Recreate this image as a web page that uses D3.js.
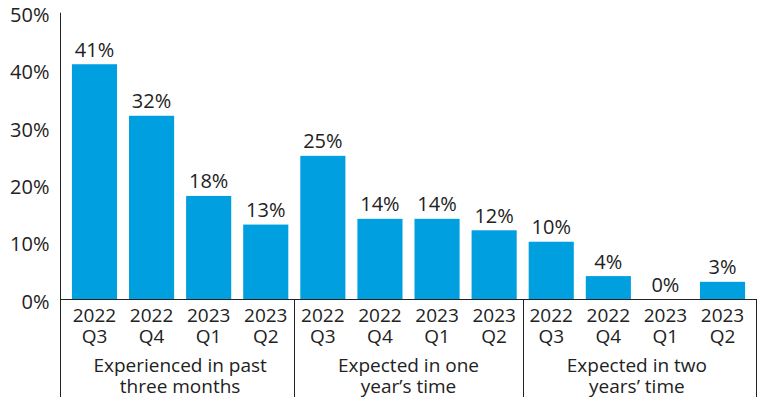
<!DOCTYPE html>
<html>
<head>
<meta charset="utf-8">
<script src="https://cdn.jsdelivr.net/npm/d3@7"></script>
<style>
  html, body { margin: 0; padding: 0; background: #fff; }
  svg text { font-family: "Open Sans", "Noto Sans", sans-serif; fill: #222; }
</style>
</head>
<body>
<svg id="chart" width="765" height="399"></svg>
<script>
// Share of respondents, by survey quarter
const quarters = ["2022 Q3", "2022 Q4", "2023 Q1", "2023 Q2"];
const groups = [
  ["Experienced in past", "three months"],
  ["Expected in one", "year\u2019s time"],
  ["Expected in two", "years\u2019 time"]
];
const experienced = [41, 32, 18, 13];
const expectedOneYear = [25, 14, 14, 12];
const expectedTwoYears = [10, 4, 0, 3];
const yTicks = [0, 10, 20, 30, 40, 50];

const seriesValues = [experienced, expectedOneYear, expectedTwoYears];
const rows = [];
seriesValues.forEach((vals, g) => {
  vals.forEach((v, q) => rows.push({ key: g + "-" + q, group: g, quarter: quarters[q], value: v }));
});

const svg = d3.select("#chart");
const left = 60.5, right = 756.5, zeroY = 299, topY = 12.7, bottomY = 397;
const valueFont = 20;
const labelFont = 19;

const x = d3.scaleBand()
  .domain(rows.map(d => d.key))
  .range([left, right])
  .paddingInner(0.21)
  .paddingOuter(0.2);

const y = d3.scaleLinear().domain([0, 50]).range([zeroY, topY]);

// Y axis labels
const yAxis = d3.axisLeft(y)
  .tickValues(yTicks)
  .tickFormat(d => d + "%")
  .tickSize(0)
  .tickPadding(11);
const yg = svg.append("g").attr("transform", `translate(${left},0)`).call(yAxis);
yg.select(".domain").remove();
yg.selectAll("text")
  .attr("font-size", valueFont)
  .attr("dy", "0.45em")
  .style("font-family", "\"Open Sans\", sans-serif")
  .attr("fill", "#222");

// Bars
svg.append("g").selectAll("rect")
  .data(rows)
  .join("rect")
  .attr("x", d => x(d.key))
  .attr("width", x.bandwidth())
  .attr("y", d => y(d.value))
  .attr("height", d => y(0) - y(d.value))
  .attr("fill", "#009fe0");

// Value labels
svg.append("g").selectAll("text")
  .data(rows)
  .join("text")
  .attr("x", d => x(d.key) + x.bandwidth() / 2)
  .attr("y", d => y(d.value) - 7.5)
  .attr("text-anchor", "middle")
  .attr("font-size", valueFont)
  .text(d => d.value + "%");

// Category labels: year on the first line, quarter on the second
[[0, 321.5], [1, 342.5]].forEach(([part, yy]) => {
  svg.append("g").selectAll("text")
    .data(rows)
    .join("text")
    .attr("x", d => x(d.key) + x.bandwidth() / 2)
    .attr("y", yy)
    .attr("text-anchor", "middle")
    .attr("font-size", labelFont)
    .text(d => d.quarter.split(" ")[part]);
});

// Group labels and separators
const groupStart = g => x(g + "-0") - (x.step() - x.bandwidth()) / 2;
const groupEnd = g => x(g + "-3") + x.bandwidth() + (x.step() - x.bandwidth()) / 2;

groups.forEach((lines, g) => {
  const cx = (Math.max(left, groupStart(g)) + Math.min(right, groupEnd(g))) / 2;
  lines.forEach((line, i) => {
    svg.append("text")
      .attr("x", cx)
      .attr("y", 371.5 + i * 21.5)
      .attr("text-anchor", "middle")
      .attr("font-size", labelFont)
      .text(line);
  });
});

const lineColor = "#222";
// Baseline
svg.append("line")
  .attr("x1", left).attr("x2", right + 0.5)
  .attr("y1", zeroY + 0.5).attr("y2", zeroY + 0.5)
  .attr("stroke", lineColor).attr("stroke-width", 1);
// Vertical axis line
svg.append("line")
  .attr("x1", left).attr("x2", left)
  .attr("y1", topY).attr("y2", bottomY)
  .attr("stroke", lineColor).attr("stroke-width", 1);
// Group separators and right edge
const seps = [1, 2].map(g => Math.round(groupStart(g)) + 0.5).concat([right]);
svg.append("g").selectAll("line")
  .data(seps)
  .join("line")
  .attr("x1", d => d).attr("x2", d => d)
  .attr("y1", zeroY).attr("y2", bottomY)
  .attr("stroke", lineColor).attr("stroke-width", 1);
</script>
</body>
</html>
